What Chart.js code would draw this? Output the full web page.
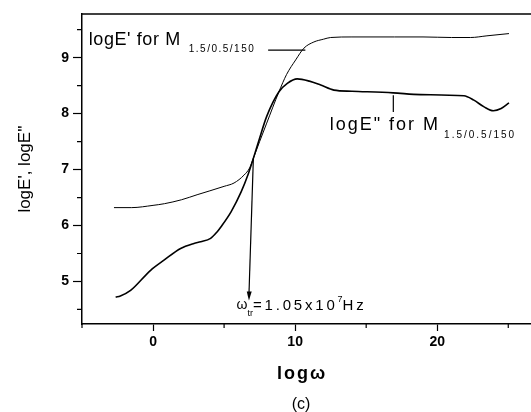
<!DOCTYPE html>
<html>
<head>
<meta charset="utf-8">
<script src="https://cdn.jsdelivr.net/npm/chart.js@4.4.1/dist/chart.umd.min.js"></script>
<style>
  html, body { margin: 0; padding: 0; background: #fff; overflow: hidden; }
  #wrap { width: 531px; height: 412px; }
</style>
</head>
<body>
<div id="wrap"><canvas id="modulusChart" width="531" height="412"></canvas></div>
<script>
// Values (log of frequency vs log of moduli)
const logwStorage = [-2.75, -1.5, 0.0, 0.8, 2.0, 3.1, 4.0, 5.0, 5.7, 6.4, 6.8, 7.06, 7.5, 8.0, 8.86, 9.4, 10.04, 10.62, 11.32, 12.0, 12.5, 14.0, 17.0, 19.0, 21.0, 22.35, 23.5, 25.05];
const logStorage  = [6.32, 6.32, 6.36, 6.39, 6.46, 6.55, 6.62, 6.70, 6.76, 6.90, 7.03, 7.20, 7.50, 7.83, 8.39, 8.70, 8.96, 9.17, 9.28, 9.33, 9.36, 9.37, 9.37, 9.37, 9.36, 9.36, 9.39, 9.43];

const logwLoss = [-2.63, -2.3, -1.58, -0.17, 0.77, 1.94, 2.88, 3.35, 4.05, 4.52, 4.76, 5.5, 6.2, 6.7, 7.06, 7.45, 8.0, 8.86, 9.45, 10.15, 11.0, 11.8, 12.73, 14.0, 16.9, 18.84, 21.88, 22.58, 23.3, 23.95, 24.5, 25.05];
const logLoss  = [4.72, 4.74, 4.84, 5.20, 5.38, 5.59, 5.68, 5.71, 5.77, 5.89, 5.97, 6.25, 6.60, 6.92, 7.20, 7.52, 7.95, 8.39, 8.54, 8.62, 8.58, 8.51, 8.42, 8.40, 8.37, 8.34, 8.32, 8.24, 8.12, 8.05, 8.09, 8.19];

// Axis ticks
const xTickValues = [-5, 0, 5, 10, 15, 20, 25];
const xTickLabels = ['', '0', '', '10', '', '20', ''];
const yTickValues = [4.5, 5, 5.5, 6, 6.5, 7, 7.5, 8, 8.5, 9, 9.5];
const yTickLabels = ['', '5', '', '6', '', '7', '', '8', '', '9', ''];

const FONT = 'Arial, "Liberation Sans", sans-serif';

/**********************************************************/
/*  Helpers for the drawn labels                          */
/**********************************************************/
// Draw a run of text pieces (normal / sub / superscript) one after the other
function drawRuns(ctx, x, y, runs) {
  runs.forEach(run => {
    ctx.font = run.font;
    ctx.letterSpacing = (run.spacing || 0) + 'px';
    x += run.gap || 0;
    ctx.fillText(run.text, x, y + (run.dy || 0));
    x += ctx.measureText(run.text).width;
  });
  ctx.letterSpacing = '0px';
}

const decorPlugin = {
  id: 'decor',
  afterDraw(chart) {
    const ctx = chart.ctx;
    const xs = chart.scales.x;
    const ys = chart.scales.y;
    const area = chart.chartArea;
    const px = v => xs.getPixelForValue(v);
    const py = v => ys.getPixelForValue(v);

    ctx.save();
    ctx.strokeStyle = '#000';
    ctx.fillStyle = '#000';

    // top frame line
    ctx.lineWidth = 1.5;
    ctx.beginPath();
    ctx.moveTo(area.left - 0.75, area.top);
    ctx.lineTo(area.right, area.top);
    ctx.stroke();

    // minor ticks (shorter than the labelled ones)
    ctx.lineWidth = 1.2;
    ctx.beginPath();
    xTickValues.forEach((v, i) => {
      if (xTickLabels[i] === '') {
        ctx.moveTo(px(v), area.bottom);
        ctx.lineTo(px(v), area.bottom + 4);
      }
    });
    yTickValues.forEach((v, i) => {
      if (yTickLabels[i] === '') {
        ctx.moveTo(area.left, py(v));
        ctx.lineTo(area.left - 5, py(v));
      }
    });
    ctx.stroke();

    // leader lines to the curves
    ctx.lineWidth = 1.2;
    ctx.beginPath();
    ctx.moveTo(px(8.1), py(9.135));
    ctx.lineTo(px(10.72), py(9.135));
    ctx.moveTo(px(16.91), py(8.33));
    ctx.lineTo(px(16.91), py(8.03));
    ctx.stroke();

    // curve labels
    ctx.textBaseline = 'alphabetic';
    ctx.textAlign = 'left';
    drawRuns(ctx, px(-4.53), py(9.225), [
      { text: "logE' for M", font: '18px ' + FONT, spacing: 0.6 },
      { text: '1.5/0.5/150', font: '10px ' + FONT, dy: 7, spacing: 1.5, gap: 8 }
    ]);
    drawRuns(ctx, px(12.43), py(7.705), [
      { text: 'logE" for M', font: '18px ' + FONT, spacing: 2.0 },
      { text: '1.5/0.5/150', font: '10px ' + FONT, dy: 8, spacing: 2.0, gap: 4 }
    ]);

    // arrow from the crossing point down to the transition frequency
    const ax0 = px(7.06), ay0 = py(7.2);
    const ax1 = px(6.75), ay1 = py(4.66);
    ctx.lineWidth = 1.2;
    ctx.beginPath();
    ctx.moveTo(ax0, ay0);
    ctx.lineTo(ax1, ay1 - 6);
    ctx.stroke();
    const ang = Math.atan2(ay1 - ay0, ax1 - ax0);
    ctx.beginPath();
    ctx.moveTo(ax1, ay1);
    ctx.lineTo(ax1 - 9 * Math.cos(ang) + 2.5 * Math.sin(ang), ay1 - 9 * Math.sin(ang) - 2.5 * Math.cos(ang));
    ctx.lineTo(ax1 - 9 * Math.cos(ang) - 2.5 * Math.sin(ang), ay1 - 9 * Math.sin(ang) + 2.5 * Math.cos(ang));
    ctx.closePath();
    ctx.fill();

    ctx.textBaseline = 'middle';
    drawRuns(ctx, px(5.88), py(4.57), [
      { text: '\u03c9', font: '14px ' + FONT },
      { text: 'tr', font: '9px ' + FONT, dy: 8 },
      { text: '=1.05x10', font: '15px ' + FONT, spacing: 2.8 },
      { text: '7', font: '9px ' + FONT, dy: -6 },
      { text: 'Hz', font: '15px ' + FONT, spacing: 2.8 }
    ]);

    // x axis title and panel letter
    ctx.textAlign = 'center';
    ctx.font = 'bold 18px ' + FONT;
    ctx.letterSpacing = '2px';
    ctx.fillText('log\u03c9', px(10.49), area.bottom + 50);
    ctx.letterSpacing = '0px';
    ctx.font = '16px ' + FONT;
    ctx.fillText('(c)', px(10.42), area.bottom + 81);
    ctx.restore();
  }
};

/**********************************************************/
/*                   Draw chart                           */
/**********************************************************/
const chart = new Chart(document.getElementById('modulusChart'), {
  type: 'line',
  data: {
    datasets: [
      {
        label: "logE'",
        data: logwStorage.map((w, i) => ({ x: w, y: logStorage[i] })),
        borderColor: '#000',
        borderWidth: 1,
        pointRadius: 0,
        cubicInterpolationMode: 'monotone',
        fill: false
      },
      {
        label: 'logE"',
        data: logwLoss.map((w, i) => ({ x: w, y: logLoss[i] })),
        borderColor: '#000',
        borderWidth: 1.6,
        pointRadius: 0,
        cubicInterpolationMode: 'monotone',
        fill: false
      }
    ]
  },
  options: {
    responsive: false,
    animation: false,
    devicePixelRatio: 1,
    layout: { padding: { top: 14, right: 0, left: 0, bottom: 0 } },
    plugins: { legend: { display: false }, tooltip: { enabled: false } },
    scales: {
      x: {
        type: 'linear',
        min: -5,
        max: 26.6,
        afterBuildTicks: scale => { scale.ticks = xTickValues.map(v => ({ value: v })); },
        afterFit: scale => { scale.height = 88; },
        ticks: {
          autoSkip: false,
          maxRotation: 0,
          padding: 3,
          color: '#000',
          font: { family: FONT, size: 14, weight: 'bold' },
          callback: (v) => xTickLabels[xTickValues.indexOf(v)] || ''
        },
        grid: {
          drawOnChartArea: false,
          tickLength: 7,
          tickWidth: 1.2,
          tickColor: c => (c.tick && xTickLabels[xTickValues.indexOf(c.tick.value)]) ? '#000' : 'rgba(0,0,0,0)'
        },
        border: { color: '#000', width: 1.5 }
      },
      y: {
        type: 'linear',
        min: 4.24,
        max: 9.78,
        afterBuildTicks: scale => { scale.ticks = yTickValues.map(v => ({ value: v })); },
        afterFit: scale => { scale.width = 82; },
        ticks: {
          autoSkip: false,
          padding: 4,
          color: '#000',
          font: { family: FONT, size: 14, weight: 'bold' },
          callback: (v) => yTickLabels[yTickValues.indexOf(v)] || ''
        },
        grid: {
          drawOnChartArea: false,
          tickLength: 9,
          tickWidth: 1.2,
          tickColor: c => (c.tick && yTickLabels[yTickValues.indexOf(c.tick.value)]) ? '#000' : 'rgba(0,0,0,0)'
        },
        border: { color: '#000', width: 1.5 },
        title: {
          display: true,
          text: "logE', logE''",
          color: '#000',
          font: { family: FONT, size: 17 },
          padding: { top: 15, bottom: 0 }
        }
      }
    }
  },
  plugins: [decorPlugin]
});
</script>
</body>
</html>
